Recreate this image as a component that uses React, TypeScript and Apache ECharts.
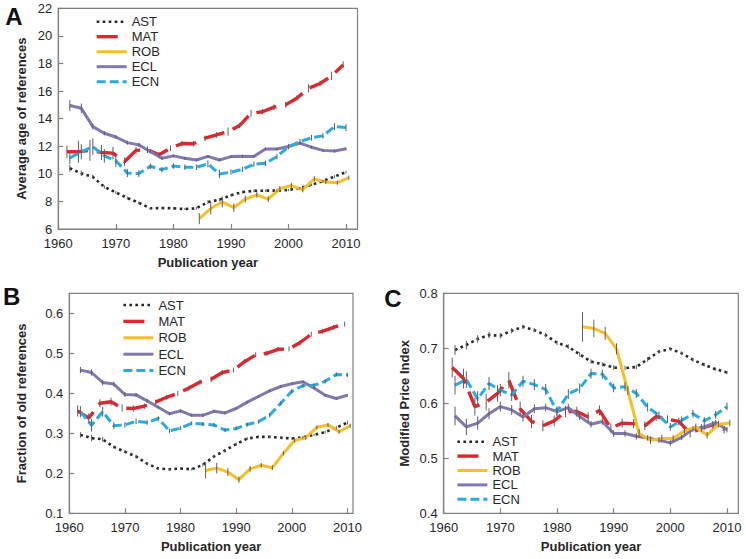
import React, { useEffect, useRef } from 'react';
import * as echarts from 'echarts';

// ---------- x positions ----------
const EVEN_YEARS = [1962, 1964, 1966, 1968, 1970, 1972, 1974, 1976, 1978, 1980, 1982, 1984, 1986, 1988, 1990, 1992, 1994, 1996, 1998, 2000, 2002, 2004, 2006, 2008, 2010];
const MAT_YEARS = [1961.5, 1963.5, 1965.5, 1967.5, 1969.5, 1971.5, 1973.5, 1975.5, 1977.5, 1979.5, 1981.5, 1983.5, 1985.5, 1987.5, 1989.5, 1991.5, 1993.5, 1995.5, 1997.5, 1999.5, 2001.5, 2003.5, 2005.5, 2007.5, 2009.5];
const ROB_YEARS = [1984.5, 1986.5, 1988.5, 1990.5, 1992.5, 1994.5, 1996.5, 1998.5, 2000.5, 2002.5, 2004.5, 2006.5, 2008.5, 2010.5];
const X_TICKS = [1960, 1970, 1980, 1990, 2000, 2010];
const LEGEND_NAMES = ['AST', 'MAT', 'ROB', 'ECL', 'ECN'];

// ---------- Panel A: average age of references ----------
const AST_A = [10.4, 10.04, 9.78, 9.05, 8.65, 8.25, 7.9, 7.5, 7.52, 7.5, 7.45, 7.5, 7.95, 8.12, 8.45, 8.68, 8.77, 8.78, 8.78, 8.83, 8.97, 9.2, 9.47, 9.8, 10.12];
const MAT_A = [11.6, 11.6, 11.7, 11.55, 11.5, 10.88, 11.7, 11.75, 11.38, 11.85, 12.2, 12.18, 12.58, 12.82, 13.06, 13.5, 14.39, 14.5, 14.83, 15.0, 15.5, 16.2, 16.55, 17.1, 17.9];
const ROB_A = [6.75, 7.5, 7.96, 7.55, 8.17, 8.47, 8.16, 8.92, 9.15, 8.86, 9.63, 9.4, 9.36, 9.72];
const ECL_A = [14.95, 14.75, 13.42, 12.94, 12.67, 12.26, 12.1, 11.6, 11.13, 11.3, 11.13, 11.0, 11.27, 11.0, 11.25, 11.28, 11.26, 11.8, 11.8, 11.98, 12.23, 11.93, 11.7, 11.65, 11.82];
const ECN_A = [11.15, 11.6, 11.97, 11.3, 10.95, 10.06, 10.02, 10.55, 10.3, 10.57, 10.48, 10.48, 10.72, 9.99, 10.12, 10.33, 10.7, 10.77, 11.25, 11.97, 12.33, 12.62, 12.75, 13.42, 13.35];
const AST_A_ERR = [0.25, 0.2, 0.15, 0.12, 0.1, 0.1, 0.1, 0.08, 0.08, 0.08, 0.08, 0.1, 0.12, 0.12, 0.1, 0.1, 0.1, 0.08, 0.08, 0.08, 0.08, 0.08, 0.1, 0.1, 0.1];
const MAT_A_ERR = [0.45, 0.8, 0.75, 0.55, 0.45, 0.3, 0.25, 0.25, 0.2, 0.2, 0.2, 0.2, 0.2, 0.2, 0.3, 0.2, 0.25, 0.2, 0.2, 0.2, 0.2, 0.3, 0.2, 0.3, 0.25];
const ROB_A_ERR = [0.4, 0.45, 0.4, 0.3, 0.25, 0.2, 0.2, 0.2, 0.2, 0.2, 0.2, 0.15, 0.15, 0.15];
const ECL_A_ERR = [0.4, 0.35, 0.2, 0.15, 0.15, 0.15, 0.15, 0.12, 0.12, 0.1, 0.1, 0.1, 0.1, 0.1, 0.1, 0.1, 0.1, 0.1, 0.1, 0.1, 0.1, 0.1, 0.1, 0.1, 0.1];
const ECN_A_ERR = [0.45, 0.55, 0.6, 0.5, 0.45, 0.3, 0.25, 0.2, 0.2, 0.2, 0.2, 0.2, 0.25, 0.3, 0.2, 0.2, 0.2, 0.2, 0.2, 0.2, 0.2, 0.2, 0.2, 0.25, 0.25];
const Y_TICKS_A = [6, 8, 10, 12, 14, 16, 18, 20, 22];

// ---------- Panel B: fraction of old references ----------
const AST_B = [0.296, 0.288, 0.285, 0.266, 0.254, 0.242, 0.224, 0.212, 0.21, 0.212, 0.21, 0.221, 0.242, 0.257, 0.273, 0.287, 0.291, 0.291, 0.289, 0.287, 0.29, 0.296, 0.303, 0.314, 0.327];
const MAT_B = [0.356, 0.338, 0.375, 0.379, 0.363, 0.362, 0.368, 0.378, 0.39, 0.4, 0.413, 0.428, 0.435, 0.452, 0.458, 0.479, 0.496, 0.5, 0.51, 0.511, 0.527, 0.548, 0.555, 0.565, 0.573];
const ROB_B = [0.207, 0.213, 0.203, 0.184, 0.211, 0.22, 0.214, 0.25, 0.282, 0.289, 0.315, 0.321, 0.304, 0.319];
const ECL_B = [0.458, 0.452, 0.427, 0.423, 0.397, 0.396, 0.381, 0.365, 0.349, 0.356, 0.345, 0.345, 0.355, 0.351, 0.362, 0.378, 0.392, 0.406, 0.417, 0.424, 0.429, 0.413, 0.395, 0.387, 0.395];
const ECN_B = [0.354, 0.32, 0.354, 0.319, 0.321, 0.33, 0.327, 0.337, 0.306, 0.313, 0.325, 0.323, 0.321, 0.308, 0.312, 0.322, 0.329, 0.345, 0.375, 0.405, 0.419, 0.42, 0.43, 0.447, 0.446];
const AST_B_ERR = [0.007, 0.008, 0.006, 0.004, 0.004, 0.004, 0.003, 0.003, 0.003, 0.003, 0.003, 0.004, 0.004, 0.004, 0.004, 0.003, 0.003, 0.003, 0.003, 0.003, 0.003, 0.003, 0.003, 0.004, 0.005];
const MAT_B_ERR = [0.014, 0.012, 0.01, 0.01, 0.009, 0.008, 0.007, 0.006, 0.006, 0.006, 0.006, 0.006, 0.007, 0.006, 0.006, 0.006, 0.006, 0.006, 0.006, 0.006, 0.006, 0.006, 0.006, 0.006, 0.006];
const ROB_B_ERR = [0.02, 0.013, 0.01, 0.008, 0.007, 0.006, 0.006, 0.005, 0.005, 0.005, 0.005, 0.005, 0.005, 0.005];
const ECL_B_ERR = [0.008, 0.008, 0.007, 0.006, 0.006, 0.005, 0.005, 0.004, 0.004, 0.004, 0.004, 0.004, 0.004, 0.004, 0.003, 0.003, 0.003, 0.003, 0.003, 0.003, 0.003, 0.003, 0.003, 0.003, 0.003];
const ECN_B_ERR = [0.014, 0.016, 0.012, 0.009, 0.007, 0.007, 0.006, 0.006, 0.006, 0.005, 0.005, 0.005, 0.005, 0.005, 0.005, 0.005, 0.005, 0.005, 0.005, 0.005, 0.005, 0.005, 0.005, 0.005, 0.005];
const Y_TICKS_B = [0.1, 0.2, 0.3, 0.4, 0.5, 0.6];

// ---------- Panel C: modified price index ----------
const AST_C = [0.697, 0.706, 0.717, 0.724, 0.723, 0.732, 0.739, 0.733, 0.724, 0.71, 0.703, 0.689, 0.676, 0.671, 0.665, 0.664, 0.666, 0.68, 0.694, 0.699, 0.691, 0.679, 0.67, 0.662, 0.656];
const MAT_C = [0.665, 0.645, 0.594, 0.602, 0.618, 0.642, 0.59, 0.567, 0.559, 0.568, 0.585, 0.585, 0.575, 0.587, 0.555, 0.564, 0.563, 0.559, 0.576, 0.571, 0.567, 0.545, 0.555, 0.561, 0.552];
const ROB_C = [0.739, 0.736, 0.727, 0.699, 0.623, 0.545, 0.533, 0.536, 0.536, 0.55, 0.557, 0.542, 0.562, 0.564];
const ECL_C = [0.577, 0.557, 0.564, 0.581, 0.594, 0.588, 0.575, 0.59, 0.592, 0.585, 0.592, 0.576, 0.562, 0.567, 0.545, 0.545, 0.54, 0.537, 0.533, 0.528, 0.538, 0.553, 0.557, 0.565, 0.552];
const ECN_C = [0.633, 0.643, 0.608, 0.636, 0.624, 0.615, 0.64, 0.634, 0.625, 0.585, 0.617, 0.627, 0.654, 0.653, 0.628, 0.63, 0.618, 0.593, 0.578, 0.557, 0.569, 0.581, 0.568, 0.579, 0.594];
const AST_C_ERR = [0.009, 0.008, 0.007, 0.006, 0.005, 0.005, 0.004, 0.004, 0.004, 0.004, 0.004, 0.004, 0.004, 0.004, 0.004, 0.004, 0.004, 0.004, 0.003, 0.003, 0.003, 0.003, 0.003, 0.003, 0.003];
const MAT_C_ERR = [0.018, 0.018, 0.016, 0.015, 0.015, 0.015, 0.013, 0.012, 0.01, 0.01, 0.01, 0.009, 0.009, 0.009, 0.008, 0.008, 0.008, 0.008, 0.008, 0.007, 0.007, 0.007, 0.007, 0.007, 0.007];
const ROB_C_ERR = [0.027, 0.016, 0.012, 0.01, 0.008, 0.008, 0.007, 0.007, 0.006, 0.006, 0.006, 0.006, 0.006, 0.006];
const ECL_C_ERR = [0.017, 0.015, 0.012, 0.01, 0.009, 0.009, 0.008, 0.008, 0.007, 0.007, 0.007, 0.007, 0.006, 0.006, 0.006, 0.006, 0.006, 0.005, 0.005, 0.005, 0.005, 0.005, 0.005, 0.005, 0.005];
const ECN_C_ERR = [0.017, 0.015, 0.014, 0.012, 0.011, 0.011, 0.01, 0.01, 0.01, 0.009, 0.009, 0.009, 0.009, 0.008, 0.008, 0.008, 0.008, 0.008, 0.007, 0.007, 0.007, 0.007, 0.007, 0.007, 0.007];
const Y_TICKS_C = [0.4, 0.5, 0.6, 0.7, 0.8];

// ---------- styles ----------
const FONT = "'Liberation Sans', Arial, Helvetica, sans-serif";
const AXIS_COLOR = '#808080';
const TEXT_COLOR = '#262626';
const ERR_COLOR = '#5e5e5e';

const LINE_STYLES: Record<string, any> = {
  AST: { color: '#262626', width: 2.6, type: [2.6, 3.4], cap: 'butt' },
  MAT: { color: '#e0262c', width: 3.4, type: [21, 9], cap: 'butt' },
  ROB: { color: '#f5be2b', width: 3, type: 'solid', cap: 'butt' },
  ECL: { color: '#8278b0', width: 3, type: 'solid', cap: 'butt' },
  ECN: { color: '#29abe2', width: 3, type: [9, 4], cap: 'butt' },
};
const DRAW_ORDER = ['AST', 'MAT', 'ECL', 'ECN', 'ROB'];

const plainLabel = (v: number) => String(v);

function buildOption() {
  const panels = [
    {
      grid: { left: 58.3, top: 8.3, width: 299.2, height: 220.7 },
      xMax: 2012, yMin: 6, yMax: 22, yInterval: 2, yTicks: Y_TICKS_A,
      yName: 'Average age of references', yNameGap: 30,
      legend: { left: 95, top: 14.7, gap: 1 },
      letter: { text: 'A', x: 14, y: 16.5 },
      vals: { AST: AST_A, MAT: MAT_A, ROB: ROB_A, ECL: ECL_A, ECN: ECN_A },
      errs: { AST: AST_A_ERR, MAT: MAT_A_ERR, ROB: ROB_A_ERR, ECL: ECL_A_ERR, ECN: ECN_A_ERR },
    },
    {
      grid: { left: 69.3, top: 293.3, width: 283.7, height: 220 },
      xMax: 2011, yMin: 0.1, yMax: 0.65, yInterval: 0.1, yTicks: Y_TICKS_B,
      yName: 'Fraction of old references', yNameGap: 41,
      legend: { left: 121.7, top: 298, gap: 2.4 },
      letter: { text: 'B', x: 11.7, y: 296.5 },
      vals: { AST: AST_B, MAT: MAT_B, ROB: ROB_B, ECL: ECL_B, ECN: ECN_B },
      errs: { AST: AST_B_ERR, MAT: MAT_B_ERR, ROB: ROB_B_ERR, ECL: ECL_B_ERR, ECN: ECN_B_ERR },
    },
    {
      grid: { left: 443.7, top: 293.3, width: 294.6, height: 220 },
      xMax: 2012, yMin: 0.4, yMax: 0.8, yInterval: 0.1, yTicks: Y_TICKS_C,
      yName: 'Modified Price Index', yNameGap: 32.5,
      legend: { left: 455.7, top: 434.7, gap: 0.4 },
      letter: { text: 'C', x: 393, y: 298.5 },
      vals: { AST: AST_C, MAT: MAT_C, ROB: ROB_C, ECL: ECL_C, ECN: ECN_C },
      errs: { AST: AST_C_ERR, MAT: MAT_C_ERR, ROB: ROB_C_ERR, ECL: ECL_C_ERR, ECN: ECN_C_ERR },
    },
  ];

  const xsFor = (name: string) => (name === 'MAT' ? MAT_YEARS : name === 'ROB' ? ROB_YEARS : EVEN_YEARS);

  const grid: any[] = [];
  const xAxis: any[] = [];
  const yAxis: any[] = [];
  const series: any[] = [];
  const legend: any[] = [];
  const graphic: any[] = [];

  panels.forEach((p, i) => {
    grid.push({
      ...p.grid,
      show: true,
      borderColor: AXIS_COLOR,
      borderWidth: 1.2,
      backgroundColor: 'transparent',
      containLabel: false,
      outerBoundsMode: 'none',
    });
    xAxis.push({
      type: 'value',
      gridIndex: i,
      min: 1960,
      max: p.xMax,
      interval: 10,
      name: 'Publication year',
      nameLocation: 'middle',
      nameGap: 27,
      nameMoveOverlap: false,
      nameTextStyle: { fontFamily: FONT, fontSize: 13, fontWeight: 'bold', color: TEXT_COLOR },
      axisLine: { show: true, lineStyle: { color: AXIS_COLOR, width: 1.2 } },
      axisTick: { show: true, inside: true, length: 5, lineStyle: { color: AXIS_COLOR, width: 1.2 }, customValues: X_TICKS },
      axisLabel: { show: true, margin: 8, fontFamily: FONT, fontSize: 13, color: TEXT_COLOR, customValues: X_TICKS, formatter: plainLabel },
      splitLine: { show: false },
    });
    yAxis.push({
      type: 'value',
      gridIndex: i,
      min: p.yMin,
      max: p.yMax,
      interval: p.yInterval,
      name: p.yName,
      nameLocation: 'middle',
      nameGap: p.yNameGap,
      nameMoveOverlap: false,
      nameTextStyle: { fontFamily: FONT, fontSize: 13, fontWeight: 'bold', color: TEXT_COLOR },
      axisLine: { show: true, lineStyle: { color: AXIS_COLOR, width: 1.2 } },
      axisTick: { show: true, inside: true, length: 5, lineStyle: { color: AXIS_COLOR, width: 1.2 }, customValues: p.yTicks },
      axisLabel: { show: true, margin: 6, fontFamily: FONT, fontSize: 13, color: TEXT_COLOR, customValues: p.yTicks, formatter: plainLabel },
      splitLine: { show: false },
    });

    const errData: number[][] = [];
    DRAW_ORDER.forEach((name) => {
      const xs = xsFor(name);
      const ys = (p.vals as any)[name] as number[];
      const es = (p.errs as any)[name] as number[];
      const st = LINE_STYLES[name];
      series.push({
        type: 'line',
        name,
        xAxisIndex: i,
        yAxisIndex: i,
        data: xs.map((x, k) => [x, ys[k]]),
        symbol: 'none',
        showSymbol: false,
        color: st.color,
        itemStyle: { color: st.color },
        lineStyle: { ...st },
        silent: true,
        animation: false,
        z: 2,
      });
      xs.forEach((x, k) => errData.push([x, ys[k] - es[k], ys[k] + es[k]]));
    });
    series.push({
      type: 'custom',
      name: 'error' + i,
      xAxisIndex: i,
      yAxisIndex: i,
      data: errData,
      silent: true,
      z: 3,
      renderItem: (params: any, api: any) => {
        const x = api.value(0);
        const a = api.coord([x, api.value(1)]);
        const b = api.coord([x, api.value(2)]);
        return {
          type: 'line',
          shape: { x1: a[0], y1: a[1], x2: b[0], y2: b[1] },
          style: { stroke: ERR_COLOR, lineWidth: 1 },
        };
      },
    });

    legend.push({
      data: LEGEND_NAMES.map((n) => ({
        name: n,
        itemStyle: { opacity: 0 },
        lineStyle: {
          color: LINE_STYLES[n].color,
          width: LINE_STYLES[n].width,
          type: LINE_STYLES[n].type,
          cap: 'butt',
          opacity: 1,
        },
      })),
      orient: 'vertical',
      left: p.legend.left,
      top: p.legend.top,
      itemWidth: 30,
      itemHeight: 14,
      itemGap: p.legend.gap,
      padding: 0,
      selectedMode: false,
      itemStyle: { opacity: 0 },
      textStyle: { fontFamily: FONT, fontSize: 13, color: TEXT_COLOR, lineHeight: 14 },
    });

    graphic.push({
      type: 'text',
      x: p.letter.x,
      y: p.letter.y,
      style: {
        text: p.letter.text,
        font: `bold 24px ${FONT}`,
        fill: '#111',
        textAlign: 'center',
        textVerticalAlign: 'middle',
      },
    });
  });

  return {
    animation: false,
    backgroundColor: '#ffffff',
    grid,
    xAxis,
    yAxis,
    series,
    legend,
    graphic,
  };
}

export default function App() {
  const ref = useRef<HTMLDivElement>(null);
  useEffect(() => {
    if (!ref.current) return;
    const chart = echarts.init(ref.current, null, { renderer: 'svg' });
    chart.setOption(buildOption() as any);
    return () => chart.dispose();
  }, []);
  return (
    <div
      ref={ref}
      style={{ position: 'fixed', left: 0, top: 0, width: 746, height: 559, background: '#fff' }}
    />
  );
}
